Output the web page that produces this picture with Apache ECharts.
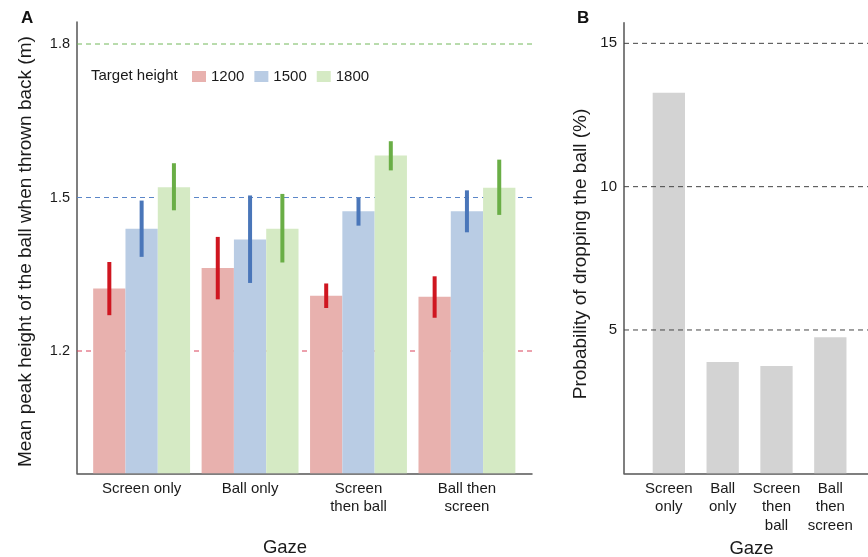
<!DOCTYPE html>
<html>
<head>
<meta charset="utf-8">
<script src="https://cdn.jsdelivr.net/npm/echarts@6/dist/echarts.min.js"></script>
<style>
  html, body { margin: 0; padding: 0; background: #fff; }
  #main { width: 868px; height: 557px; }
</style>
</head>
<body>
<div id="main"></div>
<script>
// gaze conditions (x categories)
const gazeA = ['Screen only', 'Ball only', 'Screen\nthen ball', 'Ball then\nscreen'];
const gazeB = ['Screen\nonly', 'Ball\nonly', 'Screen\nthen\nball', 'Ball\nthen\nscreen'];
const targets = ['1200', '1500', '1800'];
const targetLines = [1.2, 1.5, 1.8];

// panel A: mean peak height (m) and error bar ends
const mean1200 = [1.322, 1.362, 1.308, 1.306];
const mean1500 = [1.439, 1.418, 1.473, 1.473];
const mean1800 = [1.520, 1.439, 1.582, 1.519];
const low1200 = [1.270, 1.301, 1.284, 1.265];
const high1200 = [1.374, 1.423, 1.332, 1.346];
const low1500 = [1.384, 1.333, 1.445, 1.432];
const high1500 = [1.494, 1.504, 1.499, 1.514];
const low1800 = [1.475, 1.373, 1.553, 1.466];
const high1800 = [1.567, 1.507, 1.610, 1.574];

// panel B: probability of dropping the ball (%)
const dropPct = [13.28, 3.88, 3.74, 4.75];

const ticksA = [1.2, 1.5, 1.8];
const ticksB = [5, 10, 15];

const barFill = ['#e8b1ae', '#b9cce4', '#d5eac4'];
const errColor = ['#cf1620', '#4a76b9', '#6aae46'];
const refColor = ['#d9435a', '#5b86c8', '#72b85a'];

const xMinA = 0.404, xMaxA = 4.6;
const xMinB = 0.167, xMaxB = 4.7;
const BAR_W = 32.3;
const FONT = '"Liberation Sans", Arial, Helvetica, sans-serif';

let myChart = echarts.init(document.getElementById('main'));

const means = [mean1200, mean1500, mean1800];
const lows = [low1200, low1500, low1800];
const highs = [high1200, high1500, high1800];

// vertical error bar, shifted onto the bar of its own target height
function errorItem(offset) {
  return function (params, api) {
    const x = api.value(0);
    const lo = api.coord([x, api.value(1)]);
    const hi = api.coord([x, api.value(2)]);
    return {
      type: 'line',
      shape: { x1: lo[0] + offset, y1: lo[1], x2: hi[0] + offset, y2: hi[1] },
      style: { stroke: api.visual('color'), lineWidth: 4 }
    };
  };
}

let series = [];

// dashed target lines (behind bars)
targetLines.forEach((t, i) => {
  series.push({
    type: 'line', xAxisIndex: 0, yAxisIndex: 0, z: 1, silent: true,
    symbol: 'none',
    data: [[xMinA, t], [xMaxA, t]],
    lineStyle: { color: refColor[i], width: 1, type: [5, 4] }
  });
});

targets.forEach((name, i) => {
  series.push({
    name: name, type: 'bar', xAxisIndex: 0, yAxisIndex: 0, z: 2,
    barWidth: BAR_W, barGap: '0%',
    itemStyle: { color: barFill[i] },
    data: means[i].map((v, k) => [k + 1, v])
  });
});

targets.forEach((name, i) => {
  series.push({
    name: 'err' + name, type: 'custom', xAxisIndex: 0, yAxisIndex: 0, z: 3,
    itemStyle: { color: errColor[i] },
    renderItem: errorItem((i - 1) * BAR_W),
    data: lows[i].map((v, k) => [k + 1, v, highs[i][k]])
  });
});

series.push({
  name: 'drop', type: 'bar', xAxisIndex: 1, yAxisIndex: 1, z: 2,
  barWidth: BAR_W,
  itemStyle: { color: '#d3d3d3' },
  data: dropPct.map((v, k) => [k + 1, v])
});

ticksB.forEach(t => {
  series.push({
    type: 'line', xAxisIndex: 1, yAxisIndex: 1, z: 3, silent: true,
    symbol: 'none',
    data: [[xMinB, t], [xMaxB, t]],
    lineStyle: { color: '#444', width: 1, type: [5, 4] }
  });
});

const axisLine = { show: true, lineStyle: { color: '#555', width: 1.5 } };

let option = {
  animation: false,
  textStyle: { fontFamily: FONT },
  title: [
    { text: 'A', left: 16, top: 5, textStyle: { fontSize: 17, fontWeight: 'bold', color: '#111', fontFamily: FONT } },
    { text: 'B', left: 572, top: 5, textStyle: { fontSize: 17, fontWeight: 'bold', color: '#111', fontFamily: FONT } }
  ],
  legend: {
    data: targets,
    left: 192, top: 69, padding: 0,
    icon: 'rect', itemWidth: 14, itemHeight: 11, itemGap: 10,
    textStyle: { fontSize: 15, color: '#1a1a1a', fontFamily: FONT }
  },
  graphic: [{
    type: 'text', left: 91, top: 68,
    style: { text: 'Target height', fontSize: 15, fill: '#1a1a1a', fontFamily: FONT }
  }],
  grid: [
    { left: 77, top: 22, width: 455, height: 451.3, outerBoundsMode: 'none' },
    { left: 624, top: 22.7, width: 244, height: 450.6, outerBoundsMode: 'none' }
  ],
  xAxis: [
    {
      type: 'value', gridIndex: 0, min: xMinA, max: xMaxA,
      axisLine: axisLine, axisTick: { show: false }, splitLine: { show: false },
      axisLabel: {
        customValues: [1, 2, 3, 4], margin: 6.5, fontSize: 15, lineHeight: 18.3, color: '#1a1a1a',
        formatter: v => gazeA[Math.round(v) - 1]
      },
      name: 'Gaze', nameLocation: 'middle', nameGap: 65,
      nameTextStyle: { fontSize: 18.5, color: '#1a1a1a', padding: [0, 39, 0, 0] }
    },
    {
      type: 'value', gridIndex: 1, min: xMinB, max: xMaxB,
      axisLine: axisLine, axisTick: { show: false }, splitLine: { show: false },
      axisLabel: {
        customValues: [1, 2, 3, 4], margin: 6.5, fontSize: 15, lineHeight: 18.3, color: '#1a1a1a',
        formatter: v => gazeB[Math.round(v) - 1]
      },
      name: 'Gaze', nameLocation: 'middle', nameGap: 65,
      nameTextStyle: { fontSize: 18.5, color: '#1a1a1a', padding: [0, 0, 0, 11] }
    }
  ],
  yAxis: [
    {
      type: 'value', gridIndex: 0, min: 0.961, max: 1.843,
      axisLine: axisLine, axisTick: { show: false }, splitLine: { show: false },
      axisLabel: { customValues: ticksA, margin: 7, fontSize: 14.5, color: '#1a1a1a', formatter: v => v.toFixed(1) },
      name: 'Mean peak height of the ball when thrown back (m)',
      nameLocation: 'middle', nameGap: 42,
      nameTextStyle: { fontSize: 19, color: '#1a1a1a', padding: [0, 8, 0, 0] }
    },
    {
      type: 'value', gridIndex: 1, min: 0, max: 15.72,
      axisLine: axisLine, axisTick: { show: false }, splitLine: { show: false },
      axisLabel: { customValues: ticksB, margin: 7, fontSize: 15, color: '#1a1a1a' },
      name: 'Probability of dropping the ball (%)',
      nameLocation: 'middle', nameGap: 34,
      nameTextStyle: { fontSize: 19, color: '#1a1a1a', padding: [0, 12, 0, 0] }
    }
  ],
  series: series
};

myChart.setOption(option);
</script>
</body>
</html>
